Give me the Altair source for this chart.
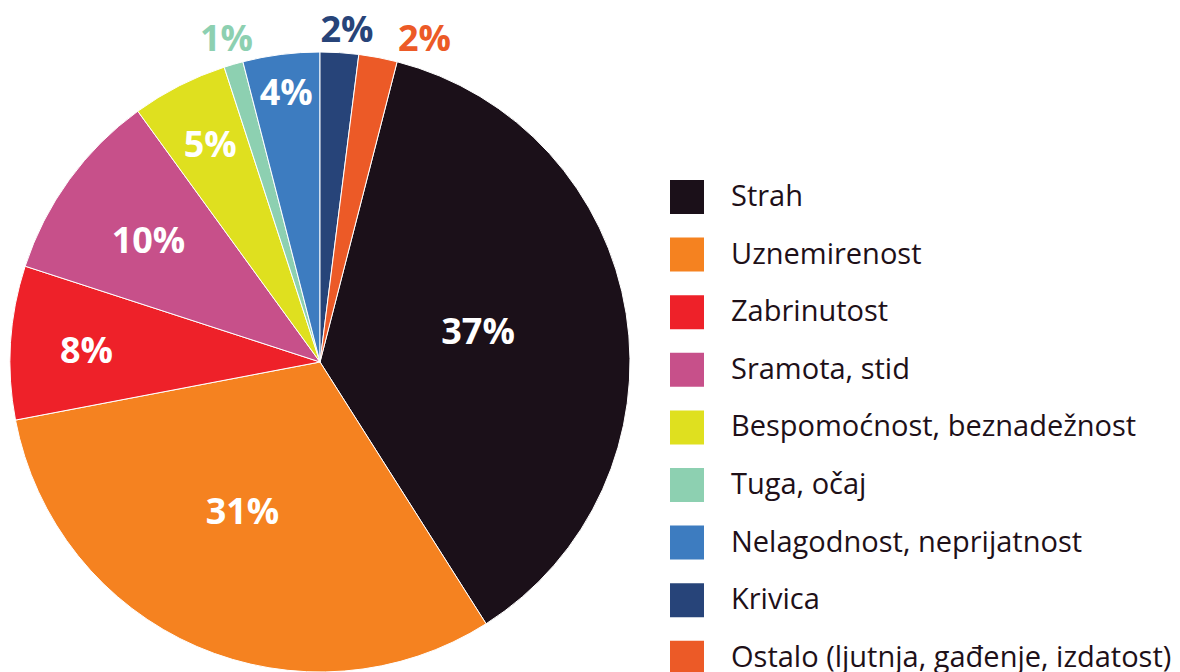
import math
import altair as alt
import pandas as pd

categories = ["Strah", "Uznemirenost", "Zabrinutost", "Sramota, stid",
              "Bespomoćnost, beznadežnost", "Tuga, očaj",
              "Nelagodnost, neprijatnost", "Krivica",
              "Ostalo (ljutnja, gađenje, izdatost)"]
values = [37, 31, 8, 10, 5, 1, 4, 2, 2]
labels = ["37%", "31%", "8%", "10%", "5%", "1%", "4%", "2%", "2%"]
colors = ["#1b1019", "#f58220", "#ee2129", "#c7508a", "#dfe01f",
          "#8dd0b1", "#3d7cc0", "#274479", "#ec5a27"]

df = pd.DataFrame({"category": categories, "value": values,
                   "label": labels, "idx": list(range(len(categories)))})

off = 0.04 * 2 * math.pi
CX, CY = 312, 354
FONT = "Open Sans"
theta_scale = alt.Scale(domain=[0, 100], range=[off, off + 2 * math.pi])

color_enc = alt.Color(
    "category:N",
    scale=alt.Scale(domain=categories, range=colors),
    sort=categories,
    legend=alt.Legend(
        title=None, orient="none", legendX=662, legendY=172,
        symbolType="square", symbolSize=1156, symbolStrokeWidth=0,
        labelFontSize=29, labelFont=FONT, labelColor="#1e1018",
        labelOffset=27, rowPadding=23.6, labelLimit=700,
    ),
)

arcs = alt.Chart(df).mark_arc(
    outerRadius=310, stroke="white", strokeWidth=1, x=CX, y=CY
).encode(
    theta=alt.Theta("value:Q", stack=True, scale=theta_scale),
    order=alt.Order("idx:Q"),
    color=color_enc,
)

text_base = alt.Chart(df).transform_window(
    cum="sum(value)", sort=[alt.SortField("idx")], frame=[None, 0]
).transform_calculate(
    mid="datum.cum - datum.value / 2"
).encode(
    theta=alt.Theta("mid:Q", stack=None, scale=theta_scale),
)


def inside(cat, r, dx=0, dy=0):
    return text_base.transform_filter(alt.datum.category == cat).mark_text(
        radius=r, dx=dx, dy=dy, x=CX, y=CY, font=FONT, fontSize=36,
        fontWeight="bold", fill="white", baseline="middle", align="center"
    ).encode(text="label:N")


def outside(cat, r, dx=0, dy=0):
    return text_base.transform_filter(alt.datum.category == cat).mark_text(
        radius=r, dx=dx, dy=dy, x=CX, y=CY, font=FONT, fontSize=36,
        fontWeight="bold", baseline="middle", align="center"
    ).encode(text="label:N", color=color_enc)


layers = [
    arcs,
    inside("Strah", 160, 0, -4),
    inside("Uznemirenost", 165, -12, 0),
    inside("Zabrinutost", 234, 0, 5),
    inside("Sramota, stid", 212, 0, 5),
    inside("Bespomoćnost, beznadežnost", 242),
    inside("Nelagodnost, neprijatnost", 270),
    outside("Tuga, očaj", 335),
    outside("Krivica", 333, 6, 1),
    outside("Ostalo (ljutnja, gađenje, izdatost)", 328, 43, 0),
]

chart = alt.layer(*layers).properties(
    width=1164, height=664, padding=0,
    autosize=alt.AutoSizeParams(type="none"),
).configure_view(stroke=None)

chart.save("out.html", embed_options={"renderer": "svg", "actions": False})
